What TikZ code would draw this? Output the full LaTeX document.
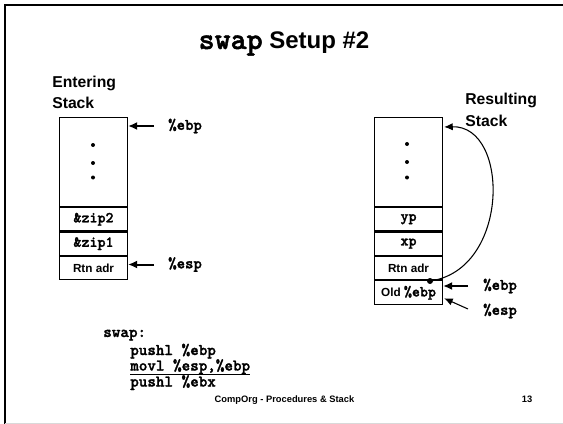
\documentclass[tikz,border=0pt]{standalone}
\usepackage{fontspec}
\setmainfont{Liberation Sans}
\setmonofont{lmmonolt10-regular.otf}[BoldFont=lmmonolt10-bold.otf,
  BoldFeatures={FakeBold=1.6}, Scale=1.143]
\usetikzlibrary{arrows.meta,calc}

\begin{document}
\begin{tikzpicture}[x=0.75pt,y=-0.75pt,
  cell/.style={draw=black, line width=0.8pt, minimum width=51pt, minimum height=17.5pt,
    inner sep=0pt, anchor=north west, font=\bfseries\fontsize{8.8}{10}\selectfont},
  bigcell/.style={cell, minimum height=66.75pt},
  tcell/.style={cell, font=\ttfamily\bfseries\fontsize{10}{12}\selectfont},
  reg/.style={anchor=west, inner sep=0pt, font=\ttfamily\bfseries\fontsize{10.5}{12}\selectfont},
  ptr/.style={-{Latex[length=6.75pt,width=6pt]}, line width=1.5pt},
  thinptr/.style={-{Latex[length=6.5pt,width=5.5pt]}, line width=0.8pt},
  heading/.style={anchor=north west, inner sep=0pt, align=left,
    font=\bfseries\fontsize{11.8}{16}\selectfont},
  code/.style={anchor=base west, inner sep=0pt, font=\ttfamily\bfseries\fontsize{10.7}{12}\selectfont},
  footer/.style={anchor=base, inner sep=0pt, font=\bfseries\fontsize{7}{8}\selectfont},
  stackdot/.style={circle, fill=black, inner sep=0pt, minimum size=3pt},
]
\useasboundingbox (0,0) rectangle (563,424);

% slide frame
\draw[line width=1.5pt] (5,424) -- (5,5) -- (563,5);
\draw[black!15, line width=0.75pt] (5,423.5) -- (563,423.5);

% title
\node[anchor=base, inner sep=0pt] (title) at (284,49)
  {{\ttfamily\bfseries\fontsize{20}{24}\selectfont swap}\bfseries\fontsize{18}{22}\selectfont\ Setup \#2};

% entering stack
\node[heading] (enth) at (52,75.5) {Entering\\Stack};
\node[bigcell] (lbig) at (59,117) {};
\node[tcell] (lz2) at (lbig.south west) {\&zip2};
\node[tcell] (lz1) at (lz2.south west) {\&zip1};
\node[cell] (lrtn) at (lz1.south west) {Rtn adr};
\node[stackdot] (ld1) at (93,145) {};
\node[stackdot] (ld2) at (93,163) {};
\node[stackdot] (ld3) at (93,177.5) {};

\node[reg] (lebp) at (168,126) {\%ebp};
\node[reg] (lesp) at (168,264.5) {\%esp};
\draw[ptr] ($(lebp.west)+(-14,0)$) coordinate (lebpt) -- (lebpt -| lbig.east);
\draw[ptr] ($(lesp.west)+(-14,0)$) coordinate (lespt) -- (lespt -| lrtn.east);

% resulting stack
\node[heading] (resh) at (465,93) {Resulting\\Stack};
\node[bigcell] (rbig) at (374,117) {};
\node[tcell] (ryp) at (rbig.south west) {yp};
\node[tcell] (rxp) at (ryp.south west) {xp};
\node[cell] (rrtn) at (rxp.south west) {Rtn adr};
\node[cell, minimum height=18pt] (rold) at (rrtn.south west)
  {Old {\ttfamily\fontsize{10}{12}\selectfont\%ebp}};
\node[stackdot] (rd1) at (407,144) {};
\node[stackdot] (rd2) at (407,162) {};
\node[stackdot] (rd3) at (407,177.5) {};

\node[reg] (rebp) at (483,286) {\%ebp};
\node[reg] (resp) at (483,311) {\%esp};
\draw[ptr] ($(rebp.west)+(-15,0)$) coordinate (rebpt) -- (rebpt -| rold.east);
\draw[thinptr] ($(resp.west)+(-15,-2)$) -- ($(rold.north east)+(1,18)$);

% saved frame pointer links back to the old frame
\node[circle, fill=black, inner sep=0pt, minimum size=4.5pt] (fp) at (430,281) {};
\draw[thinptr] (fp.center) .. controls (510,270) and (510,125) .. ($(rbig.north east)+(1,10)$);

% code
\node[code] (c0) at (103,337) {swap:};
\node[code] (c1) at (130,355) {pushl \%ebp};
\node[code] (c2) at (130,370.5) {movl \%esp,\%ebp};
\node[code] (c3) at (130,386.5) {pushl \%ebx};
\draw[line width=1.2pt] ($(c2.base west)+(0,4)$) -- ($(c2.base east)+(0,4)$);

% footer
\node[footer] (foot) at (284.5,402.5) {CompOrg - Procedures \& Stack};
\node[footer] (page) at (527,402.5) {13};
\end{tikzpicture}
\end{document}
